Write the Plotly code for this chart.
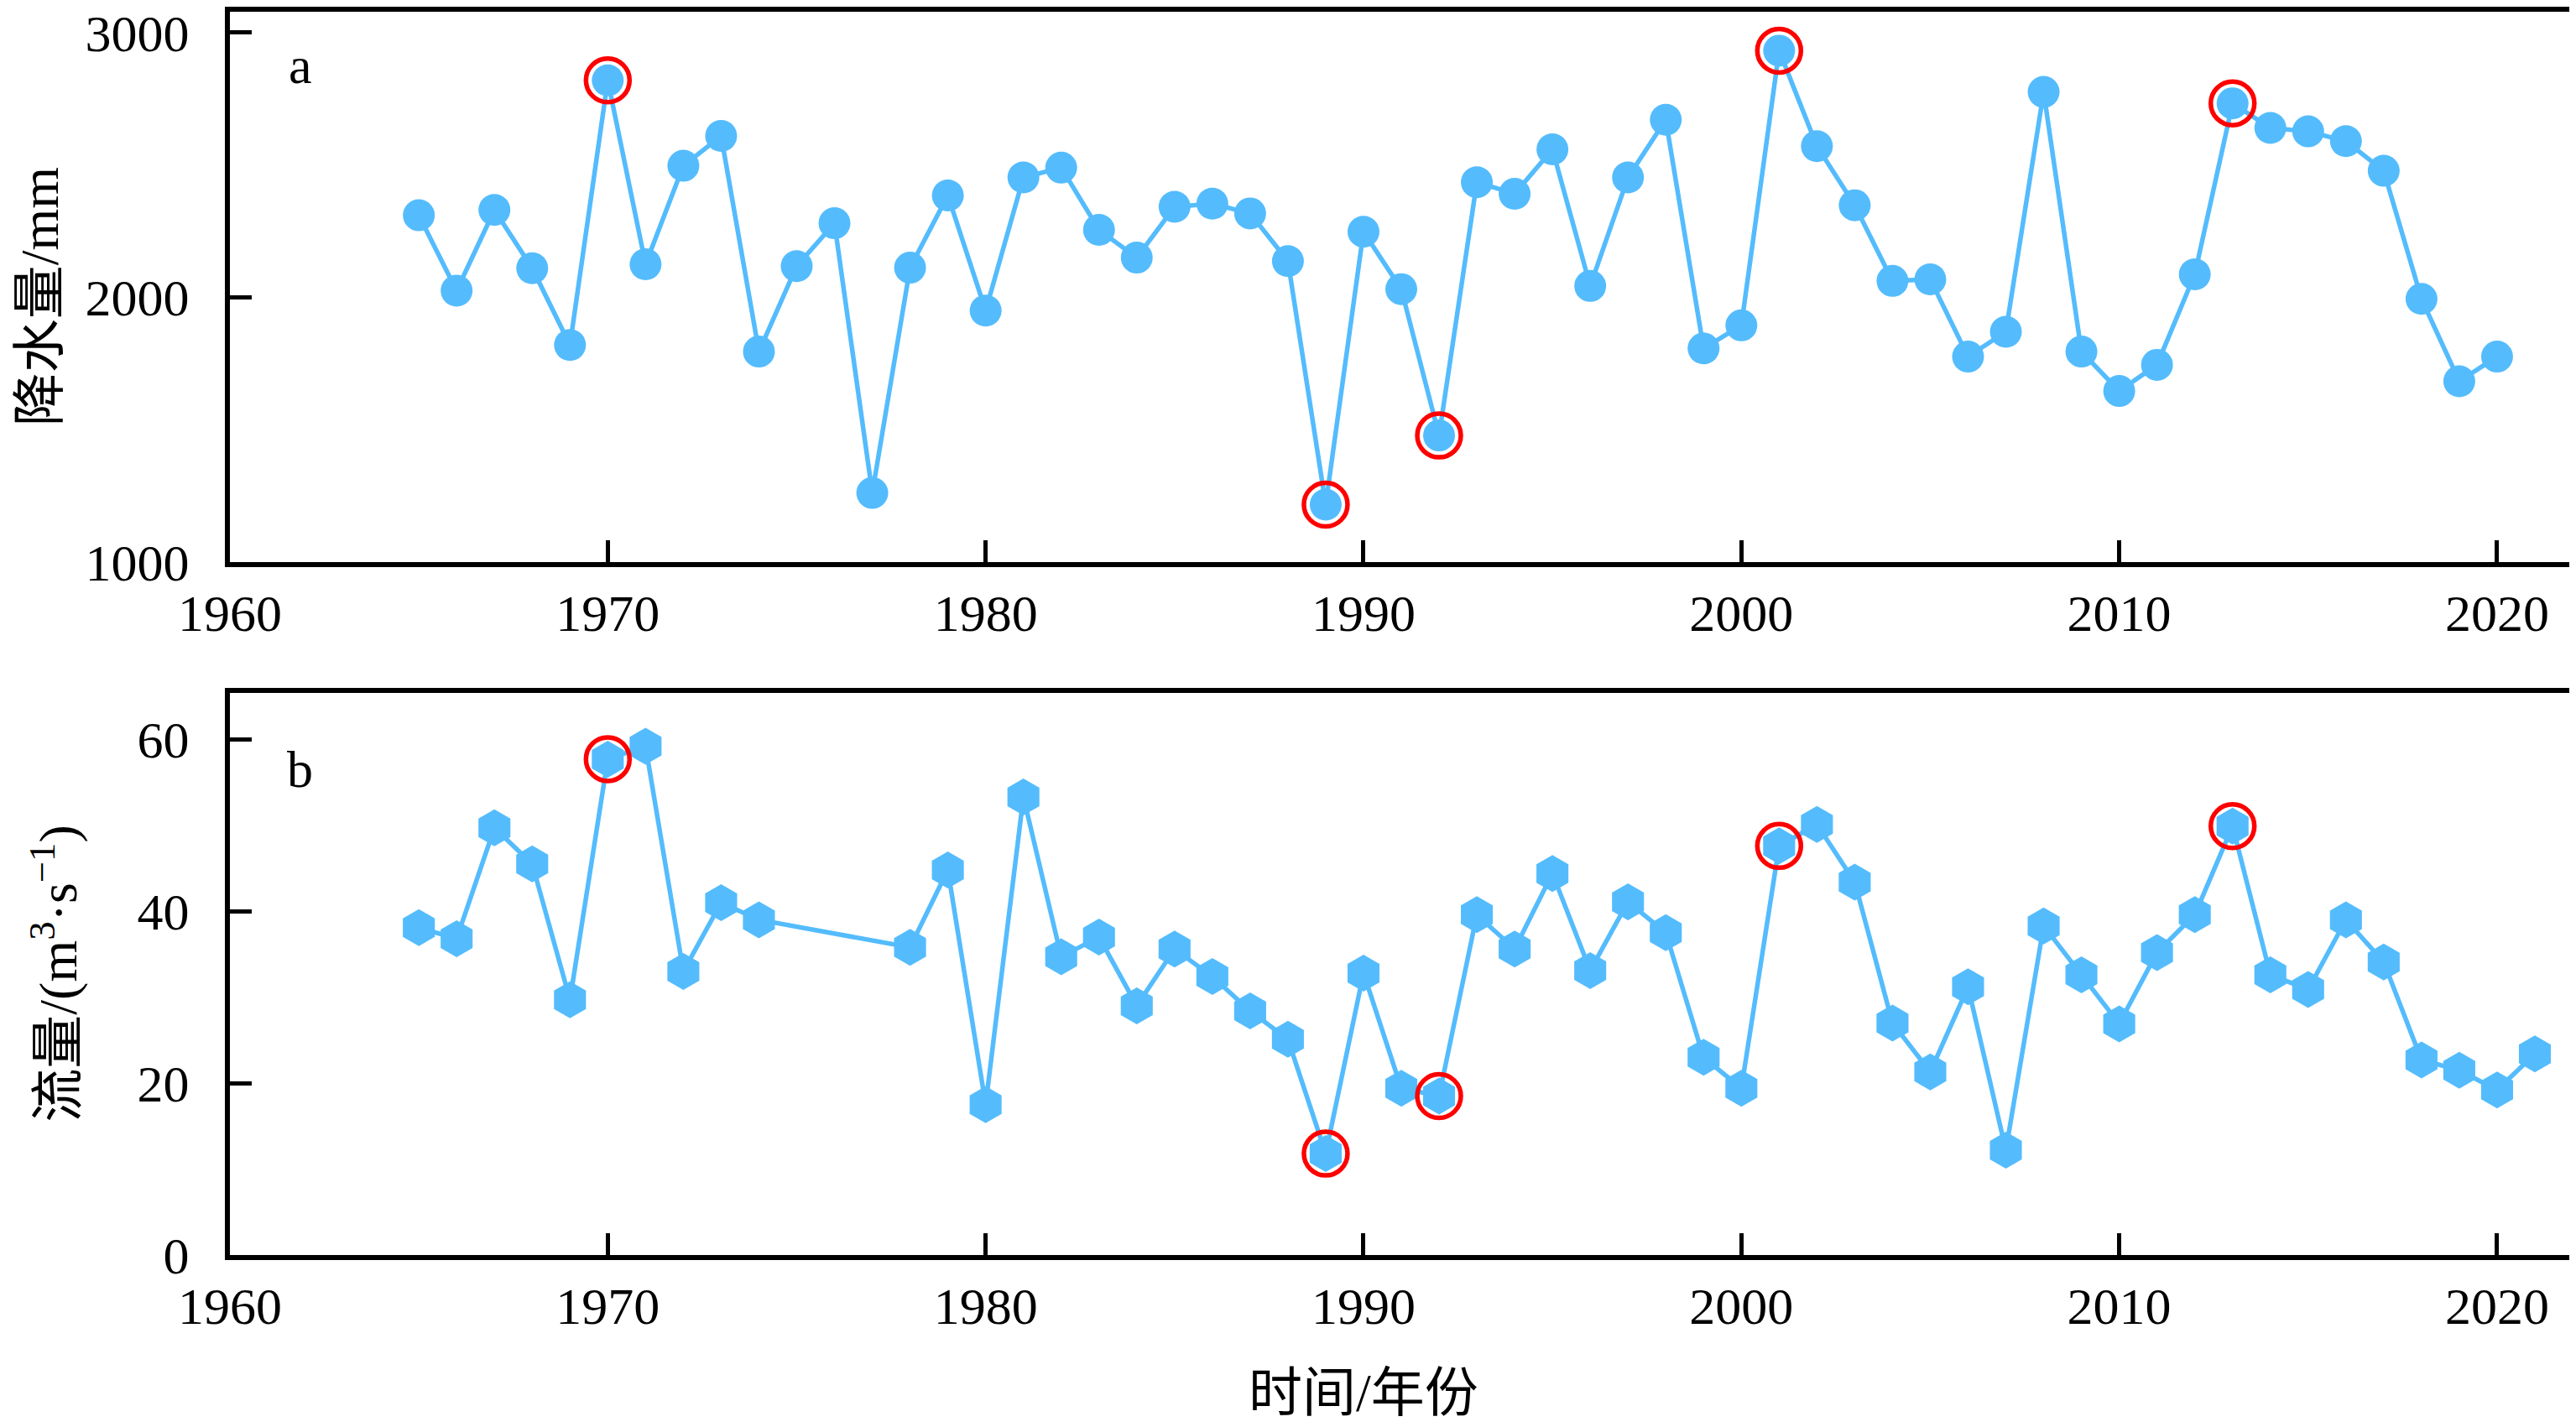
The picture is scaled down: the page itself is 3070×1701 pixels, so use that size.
import plotly.graph_objects as go

# precipitation (panel a)
years_p = list(range(1965, 2021))
precip = [2310, 2025, 2330, 2110, 1820, 2820, 2125, 2497, 2610, 1795,
          2118, 2280, 1261, 2112, 2385, 1950, 2453, 2490, 2255, 2150,
          2342, 2354, 2317, 2137, 1217, 2248, 2031, 1478, 2435, 2391,
          2559, 2043, 2453, 2671, 1807, 1894, 2932, 2571, 2348, 2062,
          2068, 1776, 1870, 2776, 1795, 1646, 1745, 2087, 2733, 2640,
          2627, 2590, 2478, 1994, 1683, 1776]

# discharge (panel b), 1975-1977 missing
years_q = [1965, 1966, 1967, 1968, 1969, 1970, 1971, 1972, 1973, 1974] + list(range(1978, 2022))
flow = [38.1, 36.8, 49.7, 45.5, 29.7, 57.7, 59.2, 33.0, 41.0, 39.0,
        35.8, 44.8, 17.5, 53.3, 34.7, 37.0, 29.0, 35.6, 32.4, 28.4,
        25.1, 11.8, 32.8, 19.4, 18.5, 39.6, 35.6, 44.4, 33.1, 41.1,
        37.5, 23.0, 19.4, 47.6, 50.1, 43.4, 27.0, 21.3, 31.2, 12.2,
        38.3, 32.6, 26.9, 35.2, 39.6, 49.9, 32.6, 30.9, 39.0, 34.1,
        22.7, 21.5, 19.2, 23.4]

marked = [1970, 1989, 1992, 2001, 2013]
xticks = [1960, 1970, 1980, 1990, 2000, 2010, 2020]

BLUE = "#54BCFD"
RED = "#FF0000"
FONT = "Liberation Serif, Noto Sans CJK SC, serif"
FS = 62
TS = 64

fig = go.Figure()
fig.add_trace(go.Scatter(x=years_p, y=precip, mode="lines+markers", xaxis="x", yaxis="y",
                         line=dict(color=BLUE, width=5.5),
                         marker=dict(symbol="circle", size=38, color=BLUE), showlegend=False))
fig.add_trace(go.Scatter(x=marked, y=[precip[years_p.index(y)] for y in marked], mode="markers",
                         xaxis="x", yaxis="y",
                         marker=dict(symbol="circle-open", size=52, color=RED, line=dict(width=5.5)),
                         showlegend=False))
fig.add_trace(go.Scatter(x=years_q, y=flow, mode="lines+markers", xaxis="x2", yaxis="y2",
                         line=dict(color=BLUE, width=5.5),
                         marker=dict(symbol="hexagon", size=44, color=BLUE), showlegend=False))
fig.add_trace(go.Scatter(x=marked, y=[flow[years_q.index(y)] for y in marked], mode="markers",
                         xaxis="x2", yaxis="y2",
                         marker=dict(symbol="circle-open", size=52, color=RED, line=dict(width=5.5)),
                         showlegend=False))

ax = dict(showgrid=False, zeroline=False, showline=True, linecolor="black", linewidth=6,
          mirror=True, ticks="inside", ticklen=26, tickwidth=5, tickcolor="black",
          automargin=False, ticklabeloverflow="allow",
          tickfont=dict(family=FONT, size=FS, color="black"))

# page body adds an 8px margin, so the figure is 8px smaller than the window
fig.update_layout(
    width=3062, height=1693, paper_bgcolor="white", plot_bgcolor="white",
    margin=dict(l=266, r=4, t=6, b=205),
    font=dict(family=FONT, size=FS, color="black"),
    xaxis=dict(ax, domain=[0, 1], range=[1960, 2022], tickvals=xticks, anchor="y",
               ticklabelstandoff=2),
    yaxis=dict(ax, domain=[0.5574, 1], range=[1000, 3079], tickvals=[1000, 2000, 3000],
               anchor="x", ticklabelstandoff=30),
    xaxis2=dict(ax, domain=[0, 1], range=[1960, 2022], tickvals=xticks, anchor="y2",
                ticklabelstandoff=2),
    yaxis2=dict(ax, domain=[0, 0.4521], range=[0, 65.4], tickvals=[0, 20, 40, 60],
                anchor="x2", ticklabelstandoff=30),
)

fig.add_annotation(text="a", xref="paper", yref="paper", x=0.030, y=0.957, showarrow=False,
                   xanchor="center", yanchor="middle", font=dict(family=FONT, size=FS))
fig.add_annotation(text="b", xref="paper", yref="paper", x=0.030, y=0.391, showarrow=False,
                   xanchor="center", yanchor="middle", font=dict(family=FONT, size=FS))
fig.add_annotation(text="降水量/mm", xref="paper", yref="paper", x=-0.081, y=0.771,
                   xanchor="center", yanchor="middle",
                   textangle=-90, showarrow=False, font=dict(family=FONT, size=TS))
fig.add_annotation(text="流量/(m<sup>3</sup>·s<sup>−1</sup>)", xref="paper", yref="paper",
                   x=-0.075, y=0.226, textangle=-90, showarrow=False,
                   xanchor="center", yanchor="middle", font=dict(family=FONT, size=TS))
fig.add_annotation(text="时间/年份", xref="paper", yref="paper", x=0.484, y=-0.111,
                   xanchor="center", yanchor="middle",
                   showarrow=False, font=dict(family=FONT, size=TS))

fig.write_html("out.html")
